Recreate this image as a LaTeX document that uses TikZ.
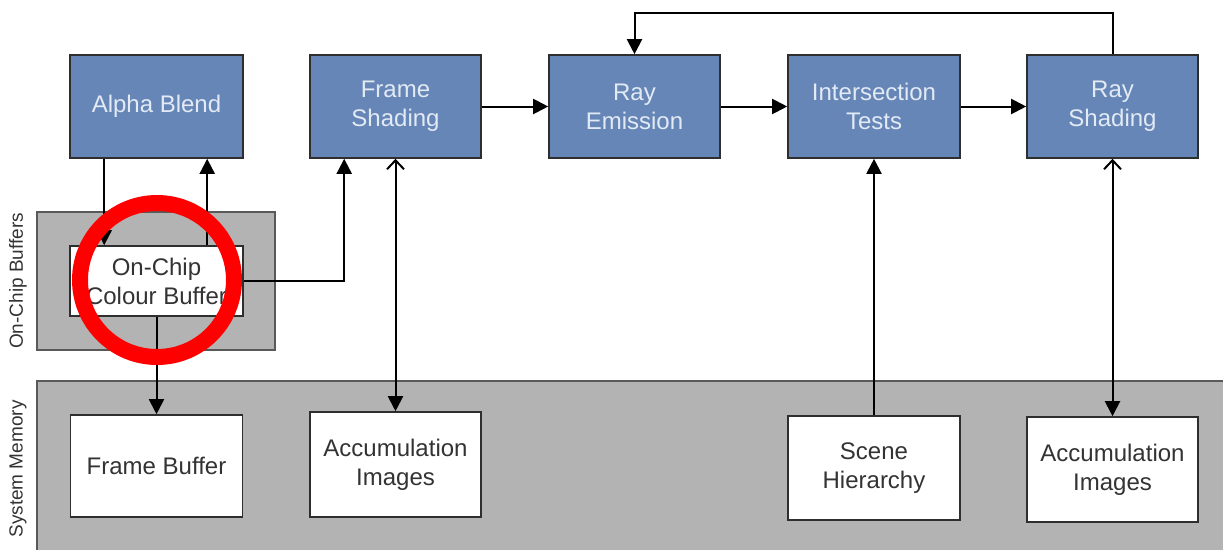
\documentclass[tikz,border=0pt]{standalone}
\usepackage{fontspec}
\setmainfont{Liberation Sans}
\usetikzlibrary{arrows.meta}
\definecolor{boxblue}{HTML}{6786B8}
\definecolor{bluetext}{HTML}{E2EAF4}
\definecolor{grayfill}{HTML}{B3B3B3}
\definecolor{darktext}{HTML}{333333}
\definecolor{edge}{HTML}{2E2E2E}
\begin{document}
\begin{tikzpicture}[x=1pt,y=-1pt,
  bluebox/.style={draw=edge, line width=1.6pt, fill=boxblue, text=bluetext, align=center,
    font=\fontsize{24}{29}\selectfont, inner sep=0pt},
  whitebox/.style={draw=edge, line width=1.6pt, fill=white, text=darktext, align=center,
    font=\fontsize{24}{29}\selectfont, inner sep=0pt},
  region/.style={draw=black!65, line width=2pt, fill=grayfill},
  sidelabel/.style={rotate=90, text=darktext, font=\fontsize{19}{22}\selectfont},
  conn/.style={line width=2pt, draw=black},
  arr/.style={conn, -{Triangle[length=15pt,width=15pt]}},
  biarr/.style={conn, {Straight Barb[length=9pt,width=17pt,line width=2pt]}-{Triangle[length=15pt,width=15pt]}}
]
\useasboundingbox (0,0) rectangle (1223,549);
% regions
\draw[region] (37,212) rectangle (275,350);
\draw[region] (37,381) rectangle (1240,570);
\node[sidelabel] (lbuf) at (18,281) {On-Chip Buffers};
\node[sidelabel] (lmem) at (18,469) {System Memory};
% top row
\node[bluebox, minimum width=173pt, minimum height=103pt] (ab) at (156.5,106.5) {Alpha Blend};
\node[bluebox, minimum width=171pt, minimum height=103pt] (fs) at (395.5,106.5) {Frame\\Shading};
\node[bluebox, minimum width=171pt, minimum height=103pt] (re) at (634.5,106.5) {Ray\\Emission};
\node[bluebox, minimum width=172pt, minimum height=103pt] (it) at (874,106.5) {Intersection\\Tests};
\node[bluebox, minimum width=171pt, minimum height=103pt] (rs) at (1112.5,106.5) {Ray\\Shading};
% on-chip
\node[whitebox, minimum width=173pt, minimum height=70pt] (cb) at (156.5,281) {On-Chip\\Colour Buffer};
% memory
\node[whitebox, minimum width=172pt, minimum height=102pt] (fb) at (156.5,466) {Frame Buffer};
\node[whitebox, minimum width=171pt, minimum height=105pt] (acc1) at (395.5,464.5) {Accumulation\\Images};
\node[whitebox, minimum width=172pt, minimum height=104pt] (sh) at (874,468) {Scene\\Hierarchy};
\node[whitebox, minimum width=171pt, minimum height=105pt] (acc2) at (1112.5,469.5) {Accumulation\\Images};
% connectors
\draw[arr] ([xshift=35pt]ab.south west) -- ([xshift=35pt]cb.north west);
\draw[arr] ([xshift=138pt]cb.north west) -- ([xshift=138pt]ab.south west);
\draw[arr] (cb.east) -| ([xshift=35pt]fs.south west);
\draw[arr] (cb.south) -- (fb.north);
\draw[biarr] (fs.south) -- (acc1.north);
\draw[arr] (fs.east) -- (re.west);
\draw[arr] (re.east) -- (it.west);
\draw[arr] (it.east) -- (rs.west);
\draw[arr] (sh.north) -- (it.south);
\draw[biarr] (rs.south) -- (acc2.north);
\coordinate (loop) at (0,13);
\draw[arr] (rs.north) -- (rs.north |- loop) -| (re.north);
% highlight circle
\draw[red, line width=16pt] (157,280) circle[radius=77pt];
\end{tikzpicture}
\end{document}
